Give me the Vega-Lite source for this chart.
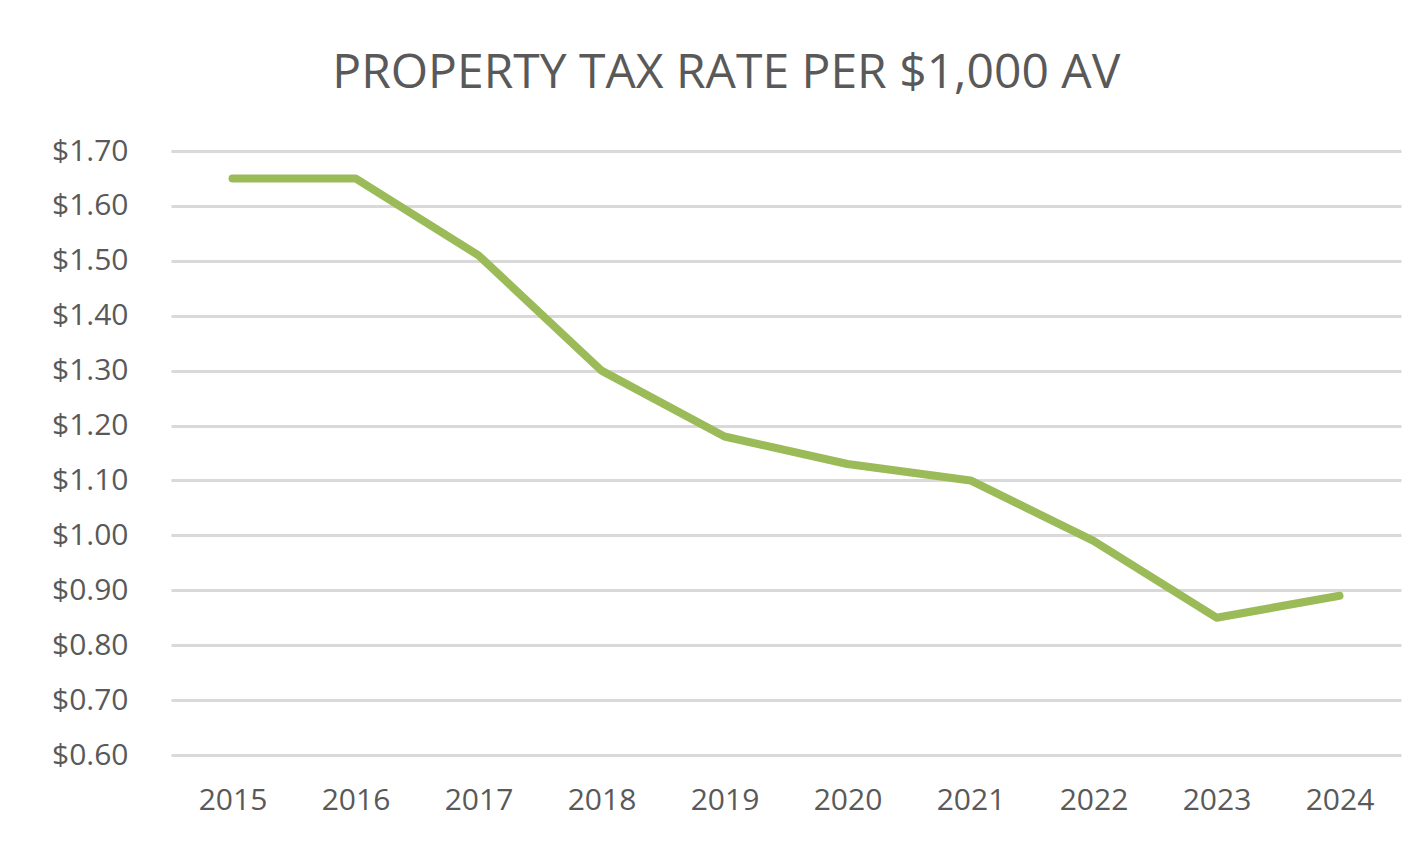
{
  "$schema": "https://vega.github.io/schema/vega-lite/v6.json",
  "width": 1230,
  "height": 604,
  "autosize": {"type": "none"},
  "padding": {"left": 171, "top": 151, "right": 24, "bottom": 89},
  "background": "white",
  "title": {
    "text": "PROPERTY TAX RATE PER $1,000 AV",
    "font": "Open Sans",
    "fontSize": 48,
    "fontWeight": "normal",
    "color": "#595959",
    "frame": "bounds",
    "anchor": "middle",
    "offset": 38
  },
  "data": {
    "values": [
      {"year": "2015", "rate": 1.65},
      {"year": "2016", "rate": 1.65},
      {"year": "2017", "rate": 1.51},
      {"year": "2018", "rate": 1.30},
      {"year": "2019", "rate": 1.18},
      {"year": "2020", "rate": 1.13},
      {"year": "2021", "rate": 1.10},
      {"year": "2022", "rate": 0.99},
      {"year": "2023", "rate": 0.85},
      {"year": "2024", "rate": 0.89}
    ]
  },
  "mark": {"type": "line", "color": "#9bbb59", "strokeWidth": 8, "strokeCap": "round", "strokeJoin": "round"},
  "encoding": {
    "x": {
      "field": "year",
      "type": "ordinal",
      "scale": {"type": "point", "padding": 0.5},
      "axis": {
        "title": null,
        "labelAngle": 0,
        "domain": false,
        "ticks": false,
        "grid": false,
        "labelFont": "Open Sans",
        "labelFontSize": 30,
        "labelColor": "#595959",
        "labelPadding": 30
      }
    },
    "y": {
      "field": "rate",
      "type": "quantitative",
      "scale": {"domain": [0.6, 1.7], "nice": false, "zero": false},
      "axis": {
        "title": null,
        "values": [0.6, 0.7, 0.8, 0.9, 1.0, 1.1, 1.2, 1.3, 1.4, 1.5, 1.6, 1.7],
        "format": "$.2f",
        "domain": false,
        "ticks": false,
        "grid": true,
        "gridColor": "#d9d9d9",
        "gridWidth": 3,
        "labelFont": "Open Sans",
        "labelFontSize": 30,
        "labelColor": "#595959",
        "labelPadding": 43
      }
    }
  },
  "config": {"view": {"stroke": null}}
}
